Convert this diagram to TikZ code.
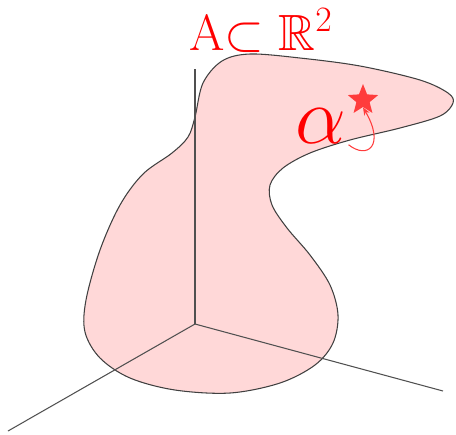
\RequirePackage{fix-cm}
\documentclass[tikz,border=0pt]{standalone}
\usepackage{amsmath,amssymb}
\usetikzlibrary{arrows.meta,shapes.geometric,positioning}
\definecolor{myred}{RGB}{255,0,0}
\definecolor{mystar}{RGB}{255,60,60}
\definecolor{mypink}{RGB}{255,216,216}
\definecolor{mygray}{RGB}{80,80,80}
\tikzset{
  axis/.style={mygray,line width=0.6pt},
  region/.style={fill=mypink,draw=black!75,line width=0.6pt},
  curl/.style={mystar,line width=0.6pt,-{Stealth[length=4.5pt,width=3.5pt]}},
}
\begin{document}
\begin{tikzpicture}[x=0.02cm,y=-0.02cm]
\useasboundingbox (0,0) rectangle (456,434);
% the set A
\draw[region] plot[smooth cycle,tension=0.55] coordinates {
  (195,117) (203,83) (222,61) (250,54) (300,58) (360,66) (420,80) (448,93)
  (453,103) (440,116) (400,128) (350,140) (310,153) (283,168) (270,185)
  (272,205) (287,228) (310,255) (330,285) (338,315) (333,343)
  (315,365) (280,383) (230,393) (175,390) (130,378) (100,358) (85,332)
  (86,300) (100,250) (120,205) (143,174) (172,153) (188,137)};
% axes
\coordinate (O) at (195,324);
\coordinate (zend) at (195,69);
\coordinate (xend) at (8,431);
\coordinate (yend) at (443,391);
\draw[axis] (O) -- (zend);
\draw[axis] (O) -- (xend);
\draw[axis] (O) -- (yend);
% labels
\node[myred,anchor=base,inner sep=0pt,font=\fontsize{29}{32}\selectfont] (setA) at (261,50) {A$\subset\mathbb{R}^2$};
\node[myred,anchor=base,inner sep=0pt,font=\fontsize{46}{50}\selectfont] (alpha) at (321,143) {$\alpha$};
\node[star,star points=5,star point ratio=2.3,fill=mystar,inner sep=0pt,minimum size=0.64cm] (opt) at (363,100) {};
\draw[curl] ([xshift=1pt,yshift=-1pt]alpha.base east) .. controls (368,160) and (385,145) .. (opt.south);
\end{tikzpicture}
\end{document}
